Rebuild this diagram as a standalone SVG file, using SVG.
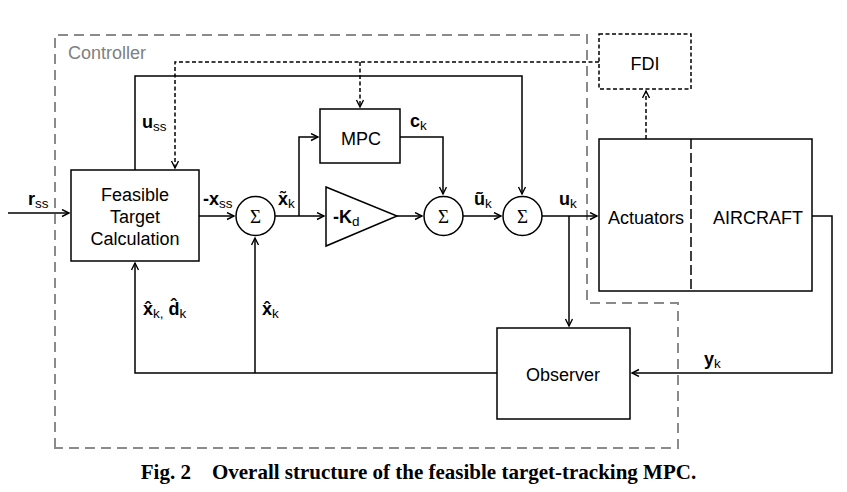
<svg xmlns="http://www.w3.org/2000/svg" width="847" height="492" viewBox="0 0 847 492">
<style>
.ln{fill:none;stroke:#000;stroke-width:1.5}
.dl{fill:none;stroke:#000;stroke-width:1.5;stroke-dasharray:4 2.5}
.box{fill:#fff;stroke:#000;stroke-width:1.5}
.t{font-family:"Liberation Sans",Arial,sans-serif;font-size:18px;fill:#000}
.c{text-anchor:middle}
.b{font-weight:bold}
.s{font-size:13.5px;font-weight:normal}
.sig{font-family:"Liberation Serif","DejaVu Serif",serif;font-size:19px;text-anchor:middle}
</style>
<defs>
<marker id="ar" markerWidth="10" markerHeight="10" refX="8" refY="4" orient="auto" markerUnits="userSpaceOnUse">
<path d="M1,0.5 L8,4 L1,7.5" fill="none" stroke="#000" stroke-width="1.4"/>
</marker>
</defs>
<g id="controller">
<path d="M55,448 L55,35 L587,35 L587,303 L678,303 L678,448 Z" fill="none" stroke="#8a8a8a" stroke-width="2" stroke-dasharray="10 6"/>
<text x="68" y="59" class="t" style="fill:#808080">Controller</text>
</g>
<g id="connectors">
<path class="dl" d="M599,62 L175,62 L175,168" marker-end="url(#ar)"/>
<path class="dl" d="M360,62 L360,107" marker-end="url(#ar)"/>
<path class="dl" d="M646,139 L646,91" marker-end="url(#ar)"/>
<path class="ln" d="M8,213 L69,213" marker-end="url(#ar)"/>
<path class="ln" d="M135,170 L135,76 L522,76 L522,194" marker-end="url(#ar)"/>
<path class="ln" d="M199,216 L234,216" marker-end="url(#ar)"/>
<path class="ln" d="M275,216 L324,216" marker-end="url(#ar)"/>
<path class="ln" d="M299,216 L299,137 L318,137" marker-end="url(#ar)"/>
<path class="ln" d="M397,216 L422,216" marker-end="url(#ar)"/>
<path class="ln" d="M400,137 L443,137 L443,194" marker-end="url(#ar)"/>
<path class="ln" d="M463,216 L501,216" marker-end="url(#ar)"/>
<path class="ln" d="M542,216 L597,216" marker-end="url(#ar)"/>
<path class="ln" d="M569,216 L569,326" marker-end="url(#ar)"/>
<path class="ln" d="M812,216 L832,216 L832,373 L632,373" marker-end="url(#ar)"/>
<path class="ln" d="M497,373 L135,373 L135,263" marker-end="url(#ar)"/>
<path class="ln" d="M255,373 L255,238" marker-end="url(#ar)"/>
</g>
<g id="labels">
<text x="28" y="205" class="t b">r<tspan class="s" dy="3">ss</tspan></text>
<text x="142" y="128" class="t b">u<tspan class="s" dy="3">ss</tspan></text>
<text x="203" y="205" class="t b">-x<tspan class="s" dy="3">ss</tspan></text>
<text x="278" y="205" class="t b">x̃<tspan class="s" dy="3">k</tspan></text>
<text x="410" y="127" class="t b">c<tspan class="s" dy="3">k</tspan></text>
<text x="474" y="205" class="t b">ũ<tspan class="s" dy="3">k</tspan></text>
<text x="559" y="205" class="t b">u<tspan class="s" dy="3">k</tspan></text>
<text x="704" y="365" class="t b">y<tspan class="s" dy="3">k</tspan></text>
<text x="143" y="315" class="t b">x̂<tspan class="s" dy="3">k,</tspan><tspan dy="-3"> d̂</tspan><tspan class="s" dy="3">k</tspan></text>
<text x="262" y="315" class="t b">x̂<tspan class="s" dy="3">k</tspan></text>
</g>
<g id="ftc">
<rect class="box" x="71" y="170" width="128" height="91"/>
<text x="135" y="201" class="t c">Feasible</text>
<text x="135" y="223" class="t c">Target</text>
<text x="135" y="245" class="t c">Calculation</text>
</g>
<g id="sum1">
<circle class="box" cx="255.5" cy="216" r="19.5"/>
<text x="255.5" y="222.5" class="sig">Σ</text>
</g>
<g id="mpc">
<rect class="box" x="320" y="109" width="80" height="54"/>
<text x="361" y="144.5" class="t c">MPC</text>
</g>
<g id="gain">
<path class="box" d="M326,187 L397,216 L326,246 Z"/>
<text x="333" y="223" class="t b">-K<tspan class="s" dy="3">d</tspan></text>
</g>
<g id="sum2">
<circle class="box" cx="443.5" cy="216" r="19.5"/>
<text x="443.5" y="222.5" class="sig">Σ</text>
</g>
<g id="sum3">
<circle class="box" cx="522.5" cy="216" r="19.5"/>
<text x="522.5" y="222.5" class="sig">Σ</text>
</g>
<g id="fdi">
<rect x="599" y="34" width="92" height="55" fill="#fff" stroke="#000" stroke-width="1.5" stroke-dasharray="4 2.5"/>
<text x="645" y="69.5" class="t c">FDI</text>
</g>
<g id="plant">
<rect class="box" x="599" y="139" width="213" height="152"/>
<line x1="691" y1="139" x2="691" y2="291" stroke="#000" stroke-width="1.5" stroke-dasharray="10 4"/>
<text x="646" y="223.5" class="t c">Actuators</text>
<text x="758" y="223.5" class="t c">AIRCRAFT</text>
</g>
<g id="observer">
<rect class="box" x="497" y="328" width="133" height="91"/>
<text x="563" y="380.5" class="t c">Observer</text>
</g>
<text x="418.5" y="479" font-family="Liberation Serif,serif" font-weight="bold" font-size="21" text-anchor="middle" xml:space="preserve">Fig. 2    Overall structure of the feasible target-tracking MPC.</text>
</svg>
